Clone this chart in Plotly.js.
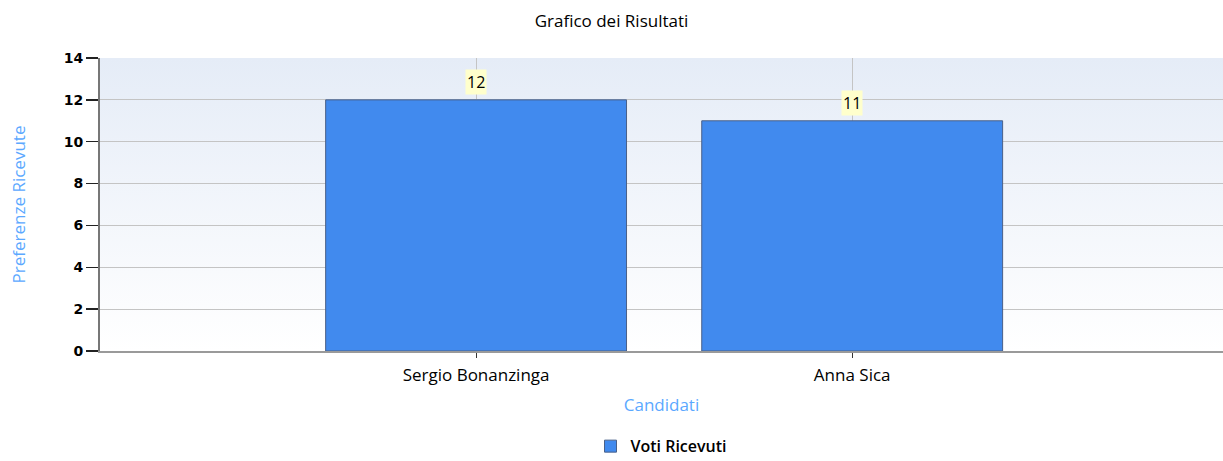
<!DOCTYPE html>
<html>
<head>
<meta charset="utf-8">
<script src="https://cdn.plot.ly/plotly-3.0.1.min.js"></script>
<style>html,body{margin:0;padding:0;background:#fff;}#chart{width:1223px;height:461px;}</style>
</head>
<body>
<div id="chart"></div>
<script>
const candidati = ["Sergio Bonanzinga", "Anna Sica"];
const voti = [12, 11];
const seriesName = "Voti Ricevuti";

const gradSvg = '<svg xmlns="http://www.w3.org/2000/svg" width="10" height="100" preserveAspectRatio="none">' +
  '<defs><linearGradient id="g" x1="0" y1="0" x2="0" y2="1">' +
  '<stop offset="0" stop-color="#E5ECF7"/><stop offset="1" stop-color="#FFFFFF"/></linearGradient></defs>' +
  '<rect width="10" height="100" fill="url(#g)"/></svg>';
const gradUri = 'data:image/svg+xml;base64,' + btoa(gradSvg);

const FONT = 'Open Sans, DejaVu Sans, sans-serif';

const trace = {
  type: 'bar',
  x: candidati,
  y: voti,
  name: seriesName,
  width: 0.8,
  marker: {color: '#418AEE', line: {color: '#4A6088', width: 1}},
  showlegend: true,
  hoverinfo: 'x+y'
};

const annotations = candidati.map((c, i) => ({
  x: c, y: voti[i], xref: 'x', yref: 'y',
  text: String(voti[i]),
  showarrow: false,
  yanchor: 'bottom', yshift: 5,
  bgcolor: '#FFFFCC',
  borderpad: 1,
  font: {family: FONT, size: 16, color: '#000'}
}));

const layout = {
  width: 1223, height: 461,
  margin: {l: 100, r: 0, t: 58, b: 110, autoexpand: false},
  paper_bgcolor: '#FFFFFF',
  plot_bgcolor: 'rgba(0,0,0,0)',
  title: {text: 'Grafico dei Risultati', x: 0.5, xanchor: 'center', y: 0.955, yanchor: 'middle',
    font: {family: FONT, size: 17, color: '#000'}},
  images: [{source: gradUri, xref: 'paper', yref: 'paper', x: 0, y: 1, sizex: 1, sizey: 1,
    xanchor: 'left', yanchor: 'top', sizing: 'stretch', layer: 'below'}],
  xaxis: {
    type: 'category',
    range: [-1, 1.986],
    showgrid: true, gridcolor: '#C4C4C4', gridwidth: 1,
    showline: true, linecolor: '#9A9A9A', linewidth: 2,
    ticks: 'outside', ticklen: 5, tickcolor: '#333',
    ticklabelstandoff: 3,
    tickfont: {family: FONT, size: 17, color: '#000'},
    title: {text: 'Candidati', standoff: 14,
      font: {family: FONT, size: 17, color: '#5BA8FF'}},
    fixedrange: true
  },
  yaxis: {
    range: [0, 14], dtick: 2,
    showgrid: true, gridcolor: '#C4C4C4', gridwidth: 1,
    zeroline: false,
    showline: true, linecolor: '#777', linewidth: 2,
    ticks: 'outside', ticklen: 12, tickcolor: '#222', tickwidth: 1.5,
    tickfont: {family: 'DejaVu Sans, sans-serif', size: 14, color: '#000', weight: 'bold'},
    title: {text: 'Preferenze Ricevute', standoff: 34,
      font: {family: FONT, size: 17, color: '#5BA8FF'}},
    fixedrange: true
  },
  showlegend: true,
  legend: {orientation: 'h', x: 0.5, xanchor: 'center', y: -0.325, yanchor: 'middle',
    borderwidth: 0, tracegroupgap: 0,
    font: {family: FONT, size: 16, color: '#000', weight: 600}},
  annotations: annotations,
  bargap: 0.2
};

Plotly.newPlot('chart', [trace], layout, {displayModeBar: false, staticPlot: true});
</script>
</body>
</html>
